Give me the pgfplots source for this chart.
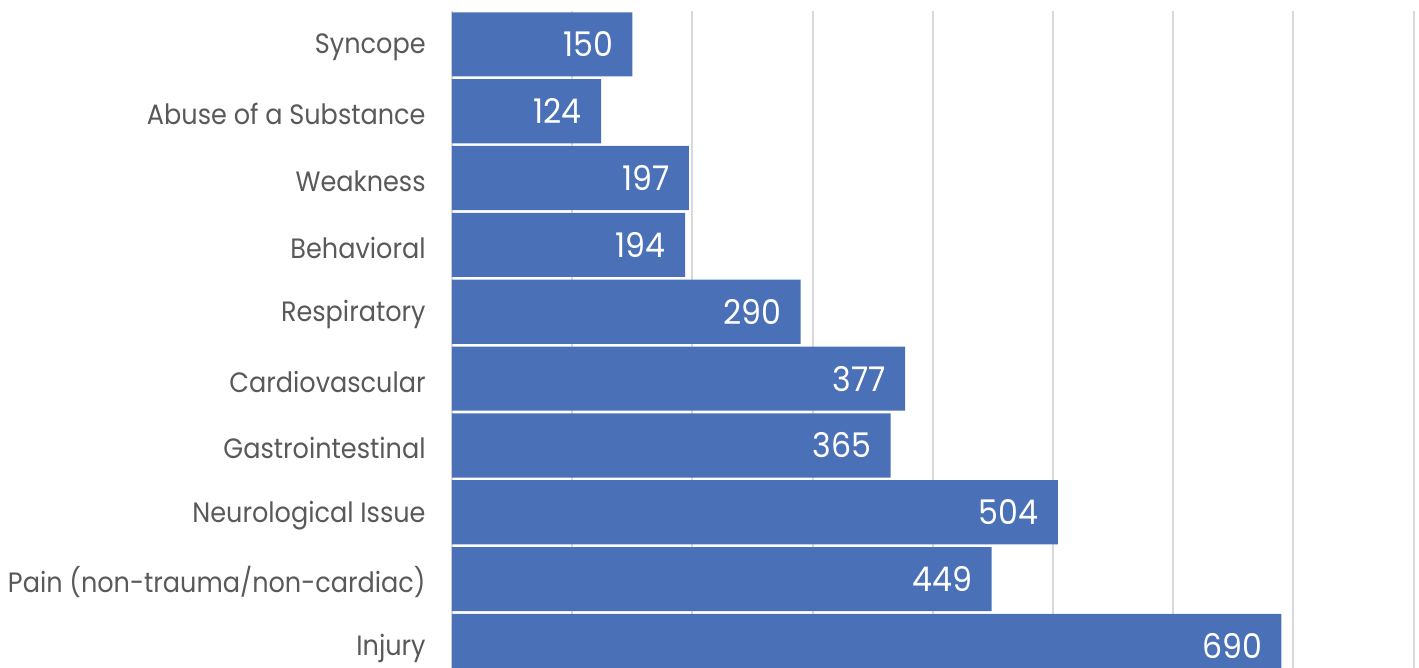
\documentclass[border=0pt]{standalone}
\usepackage{pgfplots}
\pgfplotsset{compat=1.18}
\usepackage{fontspec}
\setmainfont{Poppins}
\newfontfamily\labfont{Poppins}[FakeStretch=0.912]
\newfontfamily\numfont{Poppins}[FakeStretch=0.93]
\definecolor{barblue}{HTML}{4A71B7}
\definecolor{labgray}{HTML}{595959}
\definecolor{gridgray}{HTML}{D9D9D9}
\begin{document}
\begin{tikzpicture}
\useasboundingbox (0,0) rectangle (709.5pt,334pt);
\begin{axis}[
  at={(226pt,0pt)}, anchor=south west,
  scale only axis, width=480.8pt, height=328.5pt,
  xbar, bar width=0.96,
  xmin=0, xmax=800, ymin=-0.33, ymax=9.5,
  xtick={0,100,...,800}, xticklabels={},
  ytick={0,...,9},
  yticklabels={Injury,Pain (non-trauma/non-cardiac),Neurological Issue,Gastrointestinal,Cardiovascular,Respiratory\ ,Behavioral,Weakness,Abuse of a Substance,Syncope},
  yticklabel style={font=\labfont\fontsize{14}{16}\selectfont, text=labgray, inner sep=0pt, xshift=-13pt, yshift=-1.5pt},
  major tick length=0pt,
  axis line style={draw=none},
  xmajorgrids, major grid style={draw=gridgray, line width=1pt},
  /pgf/number format/assume math mode=true,
  nodes near coords,
  every node near coord/.append style={anchor=east, inner sep=0pt, xshift=-9.5pt, text=white, font=\numfont\fontsize{17}{19}\selectfont},
]
\addplot[fill=barblue, draw=none] coordinates {
(690,0) (449,1) (504,2) (365,3) (377,4) (290,5) (194,6) (197,7) (124,8) (150,9)
};
\end{axis}
\end{tikzpicture}
\end{document}
